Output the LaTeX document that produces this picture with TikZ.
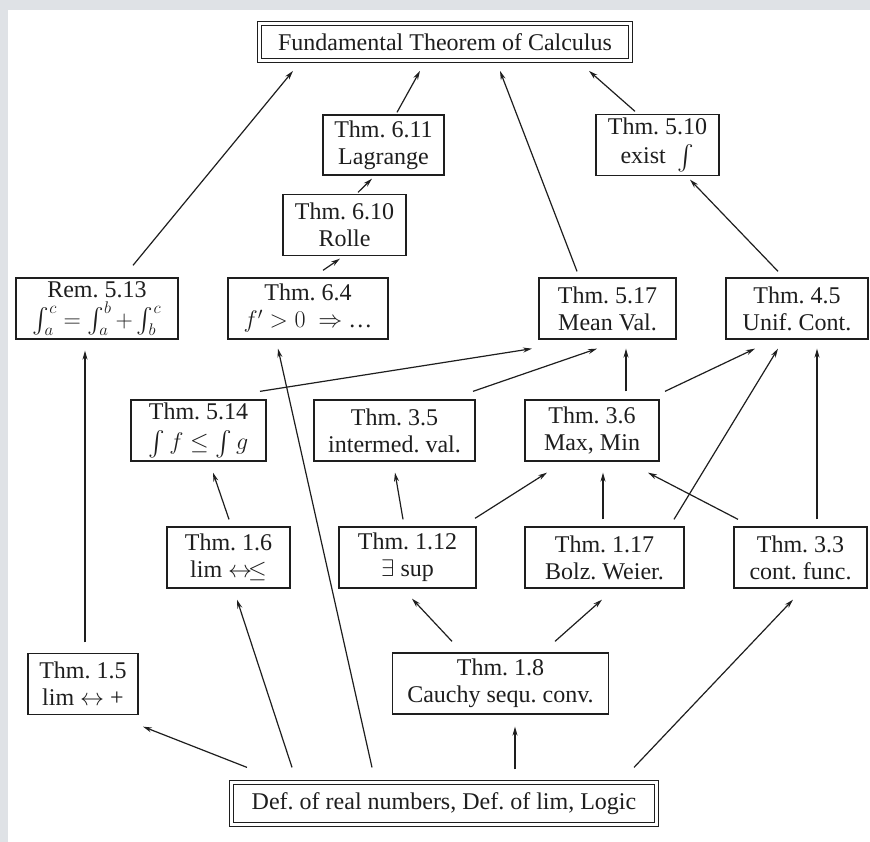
\documentclass[tikz,border=0pt]{standalone}
\usepackage{fix-cm}
\usepackage{exscale}
\usepackage{fontspec}
\setmainfont{Liberation Serif}
\usepackage{tikz}
\usetikzlibrary{arrows.meta}
\definecolor{ink}{HTML}{1E1E1E}
\definecolor{scangray}{HTML}{DFE2E6}
\tikzset{
  thmbox/.style={
    rectangle, draw=ink, line width=1.3pt, fill=white,
    minimum width=#1, minimum height=61pt,
    font=\fontsize{24}{27}\selectfont, text=ink, align=center,
    inner sep=1pt
  },
  thmbox/.default=130pt,
  mainbox/.style={
    thmbox=#1, double, double distance=2.6pt, line width=1.2pt
  },
  deparrow/.style={
    -{Stealth[length=9pt,width=5pt]}, line width=1.2pt, color=ink
  },
}

\begin{document}
\frenchspacing
\begin{tikzpicture}[x=1pt,y=-1pt]
\useasboundingbox (0,0) rectangle (870,842);
\fill[scangray] (0,0) rectangle (870,842);
\fill[white] (8,10) rectangle (870,842);

\node[mainbox=370.6pt, minimum height=36.6pt] (ftc) at (445,42) {Fundamental Theorem of Calculus};
\node[thmbox=121pt, minimum height=60pt] (lag) at (383.5,145) {Thm. 6.11\\Lagrange};
\node[thmbox=123pt] (ex510) at (657.5,145) {Thm. 5.10\\[2pt]exist\ \ $\int$};
\node[thmbox=123pt] (rolle) at (344.5,225) {Thm. 6.10\\Rolle};
\node[thmbox=162pt, inner ysep=0pt] (rem) at (97,308.5) {Rem. 5.13\\[3pt]$\int_a^c = \int_a^b + \int_b^c$};
\node[thmbox=160pt] (t64) at (308,308.5) {Thm. 6.4\\$f' > 0\ \Rightarrow$ \ldots};
\node[thmbox=137pt] (t517) at (607.5,308.5) {Thm. 5.17\\Mean Val.};
\node[thmbox=142pt] (t45) at (797,308.5) {Thm. 4.5\\Unif. Cont.};
\node[thmbox=135pt, inner ysep=0pt] (t514) at (198.5,430.5) {Thm. 5.14\\[3pt]$\int f \leq \int g$};
\node[thmbox=161pt] (t35) at (394.5,430.5) {Thm. 3.5\\intermed. val.};
\node[thmbox=134pt] (t36) at (592,430.5) {Thm. 3.6\\Max, Min};
\node[thmbox=123pt] (t16) at (228.5,557.5) {Thm. 1.6\\lim $\leftrightarrow\!\leq$};
\node[thmbox=137pt] (t112) at (407.5,557.5) {Thm. 1.12\\$\exists$ sup};
\node[thmbox=159pt] (t117) at (604.5,557.5) {Thm. 1.17\\Bolz. Weier.};
\node[thmbox=133pt] (t33) at (800.5,557.5) {Thm. 3.3\\cont. func.};
\node[thmbox=110pt] (t15) at (83,684) {Thm. 1.5\\lim $\leftrightarrow$ +};
\node[thmbox=216pt] (t18) at (500.5,683.5) {Thm. 1.8\\Cauchy sequ. conv.};
\node[mainbox=424.6pt, minimum height=41.6pt] (def) at (444,803.5) {Def. of real numbers, Def. of lim, Logic};

\draw[deparrow] ([shift={(36,-12)}]rem.north) -- ([shift={(-152,10)}]ftc.south);
\draw[deparrow] ([shift={(13.5,-2)}]lag.north) -- ([shift={(-25,10)}]ftc.south);
\draw[deparrow] ([shift={(-30.5,-6)}]t517.north) -- ([shift={(55,10)}]ftc.south);
\draw[deparrow] ([shift={(-22.5,-2.5)}]ex510.north) -- ([shift={(144,10)}]ftc.south);
\draw[deparrow] ([shift={(13.5,-1.5)}]rolle.north) -- ([shift={(-11.5,3)}]lag.south);
\draw[deparrow] ([shift={(15,-7)}]t64.north) -- ([shift={(-4.5,2.5)}]rolle.south);
\draw[deparrow] ([shift={(-19,-6)}]t45.north) -- ([shift={(32.5,3.5)}]ex510.south);
\draw[deparrow] ([shift={(61.5,-8)}]t514.north) -- ([shift={(-75.5,9)}]t517.south);
\draw[deparrow] ([shift={(78.5,-8)}]t35.north) -- ([shift={(-10.5,9)}]t517.south);
\draw[deparrow] ([shift={(34,-8)}]t36.north) -- ([shift={(18.5,9)}]t517.south);
\draw[deparrow] ([shift={(73,-8)}]t36.north) -- ([shift={(-42,9)}]t45.south);
\draw[deparrow] ([shift={(69.5,-7)}]t117.north) -- ([shift={(-19,9)}]t45.south);
\draw[deparrow] ([shift={(16.5,-7)}]t33.north) -- ([shift={(20,9)}]t45.south);
\draw[deparrow] ([shift={(0.5,-7)}]t16.north) -- ([shift={(14.5,11)}]t514.south);
\draw[deparrow] ([shift={(-4.5,-7)}]t112.north) -- ([shift={(0.5,11)}]t35.south);
\draw[deparrow] ([shift={(67.5,-8)}]t112.north) -- ([shift={(-45,11)}]t36.south);
\draw[deparrow] ([shift={(-1.5,-7)}]t117.north) -- ([shift={(11,11)}]t36.south);
\draw[deparrow] ([shift={(-62.5,-7)}]t33.north) -- ([shift={(56,11)}]t36.south);
\draw[deparrow] ([shift={(-48.5,-11)}]t18.north) -- ([shift={(4.5,10)}]t112.south);
\draw[deparrow] ([shift={(54.5,-11)}]t18.north) -- ([shift={(-2.5,11)}]t117.south);
\draw[deparrow] ([shift={(2,-10.5)}]t15.north) -- ([shift={(-12,11)}]rem.south);
\draw[deparrow] ([shift={(-197,-14.7)}]def.north) -- ([shift={(60,11.5)}]t15.south);
\draw[deparrow] ([shift={(-152,-14.7)}]def.north) -- ([shift={(8.5,11)}]t16.south);
\draw[deparrow] ([shift={(-72,-14.7)}]def.north) -- ([shift={(-30,9)}]t64.south);
\draw[deparrow] ([shift={(71,-12.7)}]def.north) -- ([shift={(14.5,12)}]t18.south);
\draw[deparrow] ([shift={(190,-14.7)}]def.north) -- ([shift={(-7.5,11)}]t33.south);
\end{tikzpicture}
\end{document}
